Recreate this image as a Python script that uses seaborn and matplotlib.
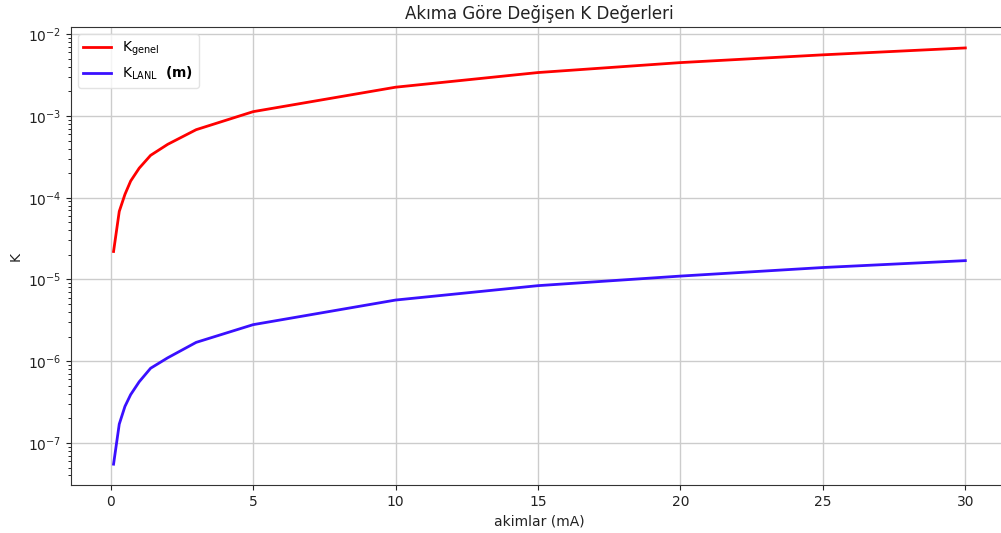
import numpy as np
import pandas as pd
import matplotlib
matplotlib.use("Agg")
import matplotlib.pyplot as plt
import seaborn as sns

akimlar = [0.1, 0.3, 0.5, 0.7, 1.0, 1.4, 2, 3, 5, 10, 15, 20, 25, 30]
k_genel = [2.2e-5, 6.8e-5, 1.1e-4, 1.6e-4, 2.3e-4, 3.3e-4, 4.5e-4, 6.8e-4,
           1.13e-3, 2.25e-3, 3.4e-3, 4.5e-3, 5.6e-3, 6.8e-3]
k_lanl = [5.5e-8, 1.7e-7, 2.8e-7, 3.9e-7, 5.6e-7, 8.2e-7, 1.1e-6, 1.7e-6,
          2.8e-6, 5.6e-6, 8.4e-6, 1.1e-5, 1.4e-5, 1.7e-5]
labels = [r'K$_{\mathrm{genel}}$', r'K$_{\mathrm{LANL}}$  $\mathbf{(m)}$']
colors = ['#ff0000', '#3a10ff']

df = pd.DataFrame({
    'akim': akimlar * 2,
    'K': k_genel + k_lanl,
    'seri': [labels[0]] * len(akimlar) + [labels[1]] * len(akimlar),
})

plt.rcParams['font.family'] = ['DejaVu Sans']
fig = plt.figure(figsize=(10.01, 5.33), dpi=100)
ax = fig.add_axes([0.0709, 0.0901, 0.936, 0.859])

sns.lineplot(data=df, x='akim', y='K', hue='seri', palette=colors,
             linewidth=2, ax=ax, legend=True)
ax.set_yscale('log')
ax.set_xlim(-1.395, 31.495)
ax.grid(True, color='#cccccc', linewidth=1)
ax.set_axisbelow(True)
ax.set_title('Akıma Göre Değişen K Değerleri', fontsize=12, color='#222222')
ax.set_xlabel('akimlar (mA)', fontsize=10, color='#222222')
ax.set_ylabel('K', fontsize=10, color='#222222')
ax.set_xticks([0, 5, 10, 15, 20, 25, 30])
ax.tick_params(colors='#222222', labelsize=10)
leg = ax.legend(loc='upper left', fontsize=10, frameon=True)
leg.get_frame().set_edgecolor('#dddddd')
for sp in ax.spines.values():
    sp.set_color('#333333')

fig.savefig('out.png', dpi=100)
